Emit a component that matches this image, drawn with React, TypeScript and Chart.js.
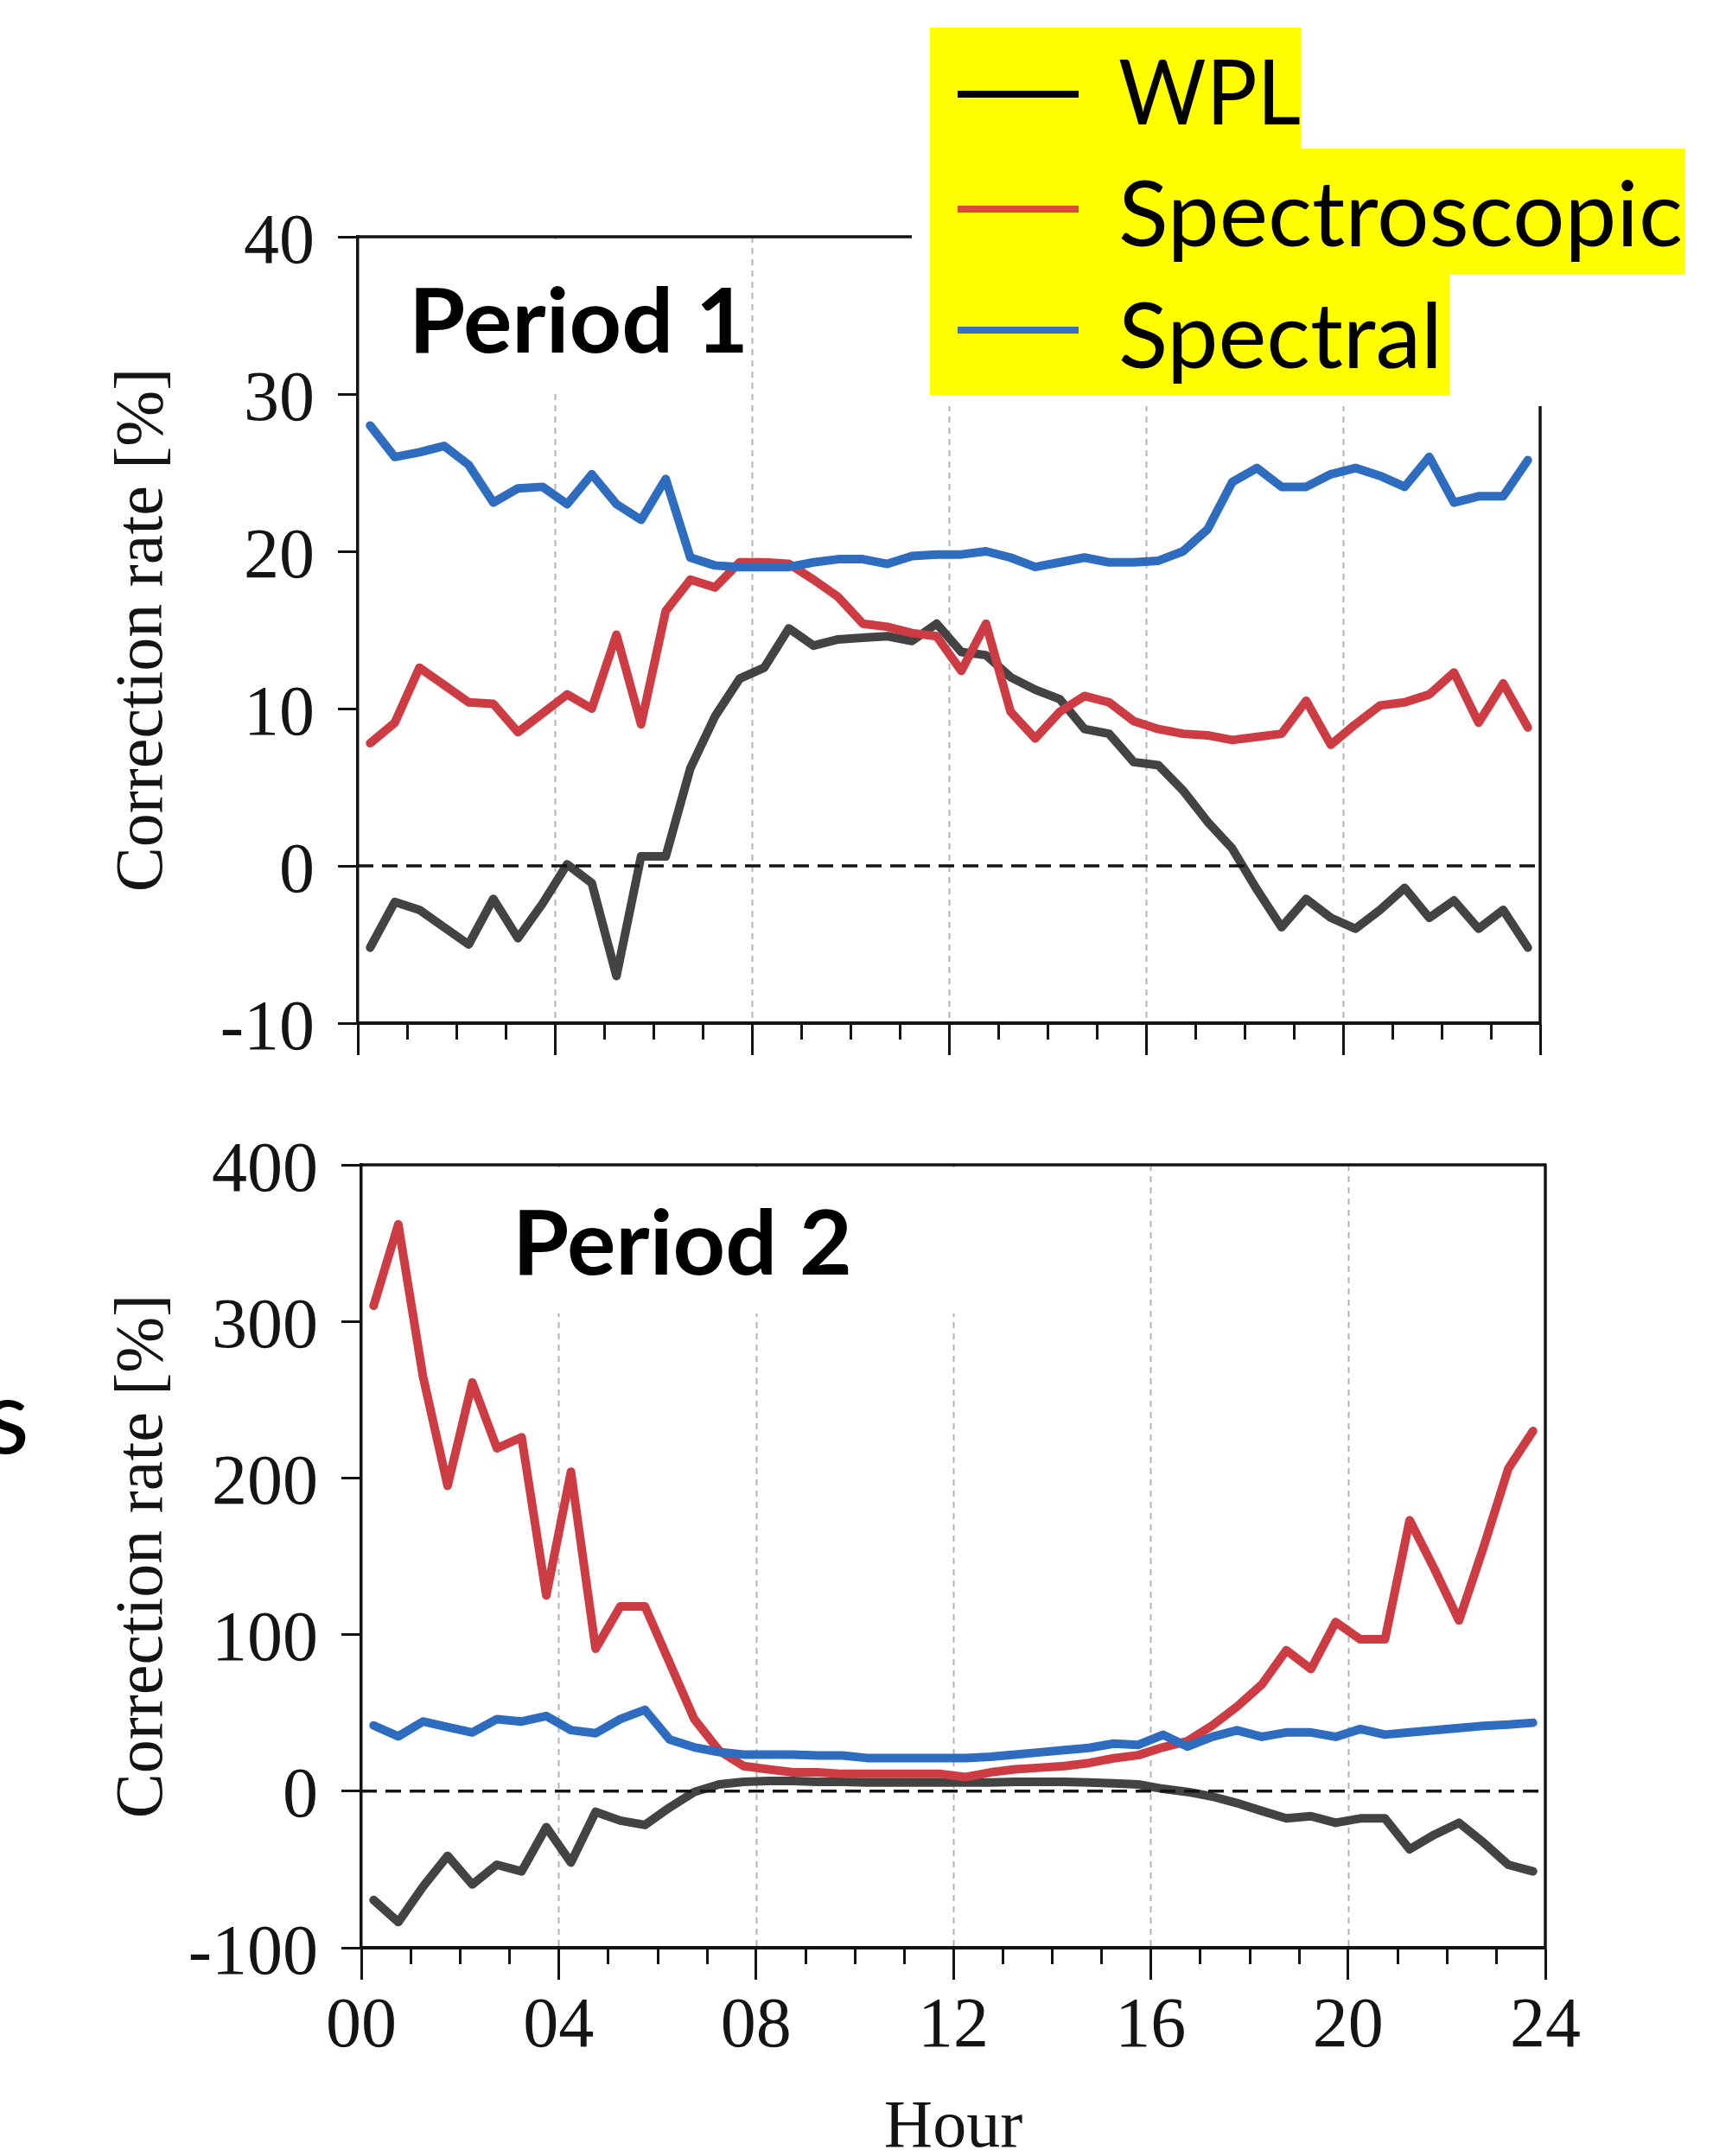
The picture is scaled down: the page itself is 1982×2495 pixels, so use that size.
import React, { useEffect, useRef } from 'react';
import { Chart, registerables } from 'chart.js';

Chart.register(...registerables);

// ---------- data ----------
const HOURS = [
  0.25, 0.75, 1.25, 1.75, 2.25, 2.75, 3.25, 3.75, 4.25, 4.75, 5.25, 5.75,
  6.25, 6.75, 7.25, 7.75, 8.25, 8.75, 9.25, 9.75, 10.25, 10.75, 11.25, 11.75,
  12.25, 12.75, 13.25, 13.75, 14.25, 14.75, 15.25, 15.75, 16.25, 16.75, 17.25, 17.75,
  18.25, 18.75, 19.25, 19.75, 20.25, 20.75, 21.25, 21.75, 22.25, 22.75, 23.25, 23.75,
];

const HOUR_TICK_LABELS = ['00', '04', '08', '12', '16', '20', '24'];
const GRID_HOURS = [4, 8, 12, 16, 20];
const MINOR_TICK_HOURS = [1, 2, 3, 5, 6, 7, 9, 10, 11, 13, 14, 15, 17, 18, 19, 21, 22, 23];
const LEGEND_LABELS = ['WPL', 'Spectroscopic', 'Spectral'];
const PANEL_TITLES = ['Period 1', 'Period 2'];

const P1_WPL = [
  -5.2, -2.3, -2.8, -3.9, -5.0, -2.1, -4.6, -2.4, 0.1, -1.1, -7.0, 0.6,
  0.6, 6.2, 9.5, 11.9, 12.6, 15.1, 14.0, 14.4, 14.5, 14.6, 14.3, 15.4,
  13.6, 13.4, 12.0, 11.2, 10.6, 8.7, 8.4, 6.6, 6.4, 4.8, 2.8, 1.1,
  -1.5, -3.9, -2.1, -3.3, -4.0, -2.8, -1.4, -3.3, -2.2, -4.0, -2.8, -5.2,
];
const P1_SPECTROSCOPIC = [
  7.8, 9.1, 12.6, 11.5, 10.4, 10.3, 8.5, 9.7, 10.9, 10.0, 14.7, 9.0,
  16.2, 18.2, 17.7, 19.3, 19.3, 19.2, 18.2, 17.1, 15.4, 15.2, 14.8, 14.6,
  12.4, 15.4, 9.8, 8.1, 9.8, 10.8, 10.4, 9.2, 8.7, 8.4, 8.3, 8.0,
  8.2, 8.4, 10.5, 7.7, 9.0, 10.2, 10.4, 10.9, 12.3, 9.1, 11.6, 8.8,
];
const P1_SPECTRAL = [
  28.0, 26.0, 26.3, 26.7, 25.5, 23.1, 24.0, 24.1, 23.0, 24.9, 23.0, 22.0,
  24.6, 19.6, 19.1, 19.0, 19.0, 19.0, 19.3, 19.5, 19.5, 19.2, 19.7, 19.8,
  19.8, 20.0, 19.6, 19.0, 19.3, 19.6, 19.3, 19.3, 19.4, 20.0, 21.4, 24.4,
  25.3, 24.1, 24.1, 24.9, 25.3, 24.8, 24.1, 26.0, 23.1, 23.5, 23.5, 25.8,
];

const P2_WPL = [
  -69.5, -83.6, -61, -41.3, -59.6, -47, -51.2, -23, -45.6, -13.2, -18.8, -21.6,
  -10.4, -0.5, 4.3, 6, 6.5, 6.5, 6, 6, 5.5, 5.5, 5.5, 5.5,
  5.5, 5.5, 6, 6, 6, 5.5, 5, 4.3, 1.5, -0.5, -3.4, -7.6,
  -12.6, -17.4, -16, -20.2, -17.4, -17.4, -37.1, -27.8, -20.2, -32.9, -47, -51.2,
];
const P2_SPECTROSCOPIC = [
  310, 362, 265, 195, 261, 219, 226, 125, 204, 91, 118, 118,
  82, 46, 26, 16, 14, 12, 12, 11, 11, 11, 11, 11,
  9, 12, 14, 15, 16, 18, 21, 23, 28, 32, 42, 54,
  68, 90, 78, 108, 97, 97, 173, 142, 109, 156, 206, 230,
];
const P2_SPECTRAL = [
  42, 35, 44.5, 41, 37.5, 46, 44.5, 48, 39, 37, 46, 52,
  33, 28, 25, 23.4, 23.4, 23.4, 22.8, 22.8, 21.2, 21.2, 21.2, 21.2,
  21.2, 22, 23.4, 24.8, 26.2, 27.6, 30.4, 29.6, 36, 28.5, 34.7, 38.9,
  34.7, 37.5, 37.5, 34.7, 39.7, 36.1, 37.5, 38.9, 40.3, 41.7, 42.5, 43.7,
];

// ---------- styles ----------
const W = 1982;
const SERIF = '"Liberation Serif", "Times New Roman", serif';
const SANS = 'Lato, "Open Sans", sans-serif';
const INK = '#141414';
const C_WPL = '#434343';
const C_SPECTROSCOPIC = '#cd3c43';
const C_SPECTRAL = '#2e6cbf';
const LEG_WPL = '#000000';
const LEG_SPECTROSCOPIC = '#d9493d';
const LEG_SPECTRAL = '#3a70c1';

type Rect = { x0: number; y0: number; x1: number; y1: number };
type Spec = {
  top: number;
  canvasH: number;
  areaTop: number;
  areaBottom: number;
  areaLeft: number;
  areaRight: number;
  yMin: number;
  yMax: number;
  yStep: number;
  wpl: number[];
  spectroscopic: number[];
  spectral: number[];
  showXLabels: boolean;
  masks: Rect[];
  frameTopEnd: number | null;
  frameRightStart: number | null;
  overlay: (ctx: CanvasRenderingContext2D) => void;
};

const toXY = (vals: number[]) => vals.map((v, i) => ({ x: HOURS[i], y: v }));

// draws text stretched/condensed horizontally to a target width
function fitText(ctx: CanvasRenderingContext2D, text: string, x: number, base: number, targetW: number) {
  const m = ctx.measureText(text).width;
  const k = m > 0 ? targetW / m : 1;
  ctx.save();
  ctx.translate(x, base);
  ctx.scale(k, 1);
  ctx.fillText(text, 0, 0);
  ctx.restore();
}

function drawLegend(ctx: CanvasRenderingContext2D) {
  ctx.save();
  ctx.fillStyle = '#ffffff';
  ctx.fillRect(1055, 0, W - 1055, 470);
  ctx.fillStyle = '#ffff00';
  ctx.fillRect(1076, 32, 1505 - 1076, 173 - 32);
  ctx.fillRect(1076, 172, 1950 - 1076, 318 - 172);
  ctx.fillRect(1076, 317, 1677 - 1076, 457 - 317);
  const rows = [
    { color: LEG_WPL, lineY: 109, base: 144, w: 211 },
    { color: LEG_SPECTROSCOPIC, lineY: 242, base: 285, w: 653 },
    { color: LEG_SPECTRAL, lineY: 382, base: 426, w: 375 },
  ];
  rows.forEach((r, i) => {
    ctx.strokeStyle = r.color;
    ctx.lineWidth = 8;
    ctx.beginPath();
    ctx.moveTo(1108, r.lineY);
    ctx.lineTo(1248, r.lineY);
    ctx.stroke();
    ctx.fillStyle = '#000';
    ctx.font = `400 104px ${SANS}`;
    ctx.textBaseline = 'alphabetic';
    ctx.textAlign = 'left';
    fitText(ctx, LEGEND_LABELS[i], 1294, r.base, r.w);
  });
  ctx.restore();
}

function drawTitle(ctx: CanvasRenderingContext2D, text: string, x: number, base: number) {
  ctx.save();
  ctx.fillStyle = '#000';
  ctx.font = `700 104px ${SANS}`;
  ctx.textBaseline = 'alphabetic';
  ctx.textAlign = 'left';
  fitText(ctx, text, x, base, 393);
  ctx.restore();
}

const SPEC1: Spec = {
  top: 0,
  canvasH: 1290,
  areaTop: 274,
  areaBottom: 1184,
  areaLeft: 414,
  areaRight: 1782,
  yMin: -10,
  yMax: 40,
  yStep: 10,
  wpl: P1_WPL,
  spectroscopic: P1_SPECTROSCOPIC,
  spectral: P1_SPECTRAL,
  showXLabels: false,
  masks: [{ x0: 418, y0: 277, x1: 860, y1: 452 }],
  frameTopEnd: 1060,
  frameRightStart: 470,
  overlay: (ctx) => {
    drawLegend(ctx);
    drawTitle(ctx, PANEL_TITLES[0], 473, 408);
  },
};

const SPEC2: Spec = {
  top: 1290,
  canvasH: 1240,
  areaTop: 58,
  areaBottom: 964,
  areaLeft: 418,
  areaRight: 1788,
  yMin: -100,
  yMax: 400,
  yStep: 100,
  wpl: P2_WPL,
  spectroscopic: P2_SPECTROSCOPIC,
  spectral: P2_SPECTRAL,
  showXLabels: true,
  masks: [{ x0: 422, y0: 61, x1: 1250, y1: 230 }],
  frameTopEnd: null,
  frameRightStart: null,
  overlay: (ctx) => {
    drawTitle(ctx, PANEL_TITLES[1], 593, 185);
    ctx.save();
    ctx.fillStyle = '#000';
    ctx.font = `400 120px ${SANS}`;
    ctx.textBaseline = 'alphabetic';
    ctx.fillText('s', -18, 392);
    ctx.restore();
  },
};

function decorPlugin(spec: Spec) {
  return {
    id: 'panelDecor',
    beforeDatasetsDraw(chart: any) {
      const { ctx, chartArea: a } = chart;
      const x = chart.scales.x;
      ctx.save();
      // dashed vertical grid lines
      ctx.strokeStyle = '#b3b3b3';
      ctx.lineWidth = 2;
      ctx.setLineDash([7, 6]);
      GRID_HOURS.forEach((h) => {
        const px = Math.round(x.getPixelForValue(h)) + 0.5;
        ctx.beginPath();
        ctx.moveTo(px, a.top);
        ctx.lineTo(px, a.bottom);
        ctx.stroke();
      });
      ctx.setLineDash([]);
      ctx.fillStyle = '#ffffff';
      spec.masks.forEach((m) => ctx.fillRect(m.x0, m.y0, m.x1 - m.x0, m.y1 - m.y0));
      // minor ticks
      ctx.strokeStyle = INK;
      ctx.lineWidth = 3;
      MINOR_TICK_HOURS.forEach((h) => {
        const px = Math.round(x.getPixelForValue(h)) + 0.5;
        ctx.beginPath();
        ctx.moveTo(px, a.bottom);
        ctx.lineTo(px, a.bottom + 19);
        ctx.stroke();
      });
      // top and right frame
      ctx.lineWidth = 3.5;
      ctx.beginPath();
      ctx.moveTo(a.left, a.top);
      ctx.lineTo(spec.frameTopEnd ?? a.right + 1.5, a.top);
      ctx.moveTo(a.right, spec.frameRightStart ?? a.top);
      ctx.lineTo(a.right, a.bottom + 2);
      ctx.stroke();
      ctx.restore();
    },
    afterDraw(chart: any) {
      spec.overlay(chart.ctx);
    },
  };
}

function buildConfig(spec: Spec): any {
  const lineStyle = {
    pointRadius: 0,
    borderWidth: 10,
    tension: 0,
    borderJoinStyle: 'round',
    borderCapStyle: 'round',
    fill: false,
  };
  return {
    type: 'line',
    data: {
      datasets: [
        { label: LEGEND_LABELS[2], data: toXY(spec.spectral), borderColor: C_SPECTRAL, ...lineStyle },
        { label: LEGEND_LABELS[1], data: toXY(spec.spectroscopic), borderColor: C_SPECTROSCOPIC, ...lineStyle },
        {
          label: 'zero',
          data: [{ x: 0, y: 0 }, { x: 24, y: 0 }],
          borderColor: INK,
          borderWidth: 3.5,
          borderDash: [18, 10],
          pointRadius: 0,
          fill: false,
        },
        { label: LEGEND_LABELS[0], data: toXY(spec.wpl), borderColor: C_WPL, ...lineStyle },
      ],
    },
    options: {
      responsive: false,
      animation: false,
      events: [],
      devicePixelRatio: 1,
      layout: {
        padding: { left: 0, top: spec.areaTop, right: W - spec.areaRight, bottom: 0 },
      },
      plugins: { legend: { display: false }, tooltip: { enabled: false } },
      scales: {
        x: {
          type: 'linear',
          min: 0,
          max: 24,
          afterFit: (s: any) => {
            s.height = spec.canvasH - spec.areaBottom;
          },
          ticks: {
            stepSize: 4,
            autoSkip: false,
            maxRotation: 0,
            minRotation: 0,
            display: spec.showXLabels,
            padding: 6,
            color: INK,
            font: { family: SERIF, size: 82, lineHeight: 1.2 },
            callback: (v: number) => HOUR_TICK_LABELS[Math.round(v / 4)] ?? '',
          },
          grid: {
            drawOnChartArea: false,
            drawTicks: true,
            tickLength: 37,
            tickWidth: 3,
            tickColor: INK,
          },
          border: { display: true, color: INK, width: 4 },
          title: spec.showXLabels
            ? {
                display: true,
                text: 'Hour',
                color: INK,
                font: { family: SERIF, size: 78, lineHeight: 1.2 },
                padding: { top: 0, bottom: 20 },
              }
            : { display: false },
        },
        y: {
          type: 'linear',
          min: spec.yMin,
          max: spec.yMax,
          afterFit: (s: any) => {
            s.width = spec.areaLeft;
          },
          ticks: {
            stepSize: spec.yStep,
            padding: 27,
            labelOffset: 8,
            color: INK,
            font: { family: SERIF, size: 82, lineHeight: 0.6 },
          },
          grid: {
            drawOnChartArea: false,
            drawTicks: true,
            tickLength: 23,
            tickWidth: 3,
            tickColor: INK,
          },
          border: { display: true, color: INK, width: 3.5 },
          title: {
            display: true,
            text: 'Correction rate [%]',
            color: INK,
            font: { family: SERIF, size: 78, lineHeight: 1.2 },
            padding: { top: 120, bottom: 0 },
          },
        },
      },
    },
    plugins: [decorPlugin(spec)],
  };
}

function Panel({ spec }: { spec: Spec }) {
  const ref = useRef<HTMLCanvasElement | null>(null);
  useEffect(() => {
    if (!ref.current) return;
    const chart = new Chart(ref.current, buildConfig(spec));
    return () => chart.destroy();
  }, [spec]);
  return (
    <canvas
      ref={ref}
      width={W}
      height={spec.canvasH}
      style={{ position: 'absolute', left: 0, top: spec.top, width: W, height: spec.canvasH, display: 'block' }}
    />
  );
}

export default function App() {
  return (
    <div
      style={{
        position: 'absolute',
        left: 0,
        top: 0,
        width: W,
        height: 2495,
        overflow: 'hidden',
        background: '#ffffff',
      }}
    >
      <Panel spec={SPEC1} />
      <Panel spec={SPEC2} />
    </div>
  );
}
